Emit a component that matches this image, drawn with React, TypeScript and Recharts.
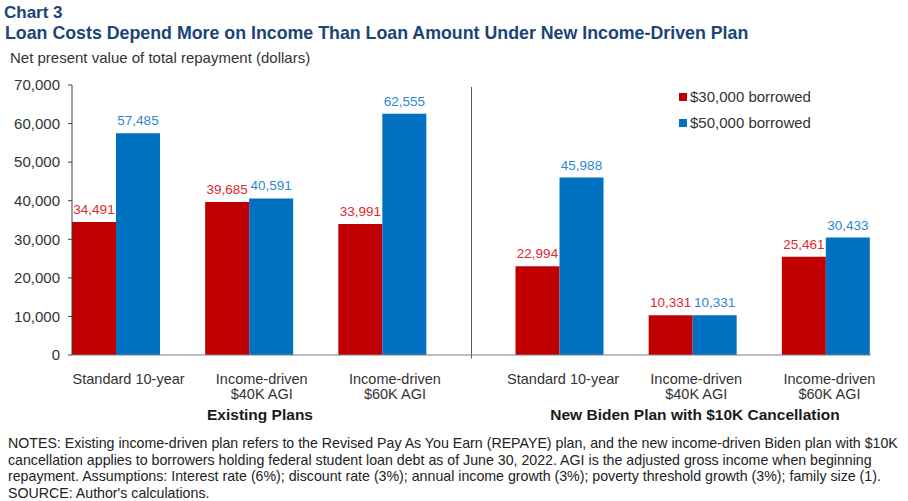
import React from "react";
import {
  BarChart,
  Bar,
  XAxis,
  YAxis,
  Cell,
  LabelList,
  ReferenceLine,
} from "recharts";

// ---------- data ----------
const categories = [
  "Standard 10-year",
  "Income-driven\n$40K AGI",
  "Income-driven\n$60K AGI",
  "Standard 10-year",
  "Income-driven\n$40K AGI",
  "Income-driven\n$60K AGI",
];
const planGroup = [0, 0, 0, 1, 1, 1];
const groupLabels = ["Existing Plans", "New Biden Plan with $10K Cancellation"];
const borrowed30k = [34491, 39685, 33991, 22994, 10331, 25461];
const borrowed50k = [57485, 40591, 62555, 45988, 10331, 30433];
const seriesNames = ["$30,000 borrowed", "$50,000 borrowed"];
const yTicks = [0, 10000, 20000, 30000, 40000, 50000, 60000, 70000];
const notes = [
  "NOTES: Existing income-driven plan refers to the Revised Pay As You Earn (REPAYE) plan, and the new income-driven Biden plan with $10K",
  "cancellation applies to borrowers holding federal student loan debt as of June 30, 2022. AGI is the adjusted gross income when beginning",
  "repayment. Assumptions: Interest rate (6%); discount rate (3%); annual income growth (3%); poverty threshold growth (3%); family size (1).",
  "SOURCE: Author's calculations.",
];

// ---------- styles ----------
const FONT = "'Liberation Sans', Arial, sans-serif";
const BAR_COLORS = ["#C00000", "#0070C0"];
const LABEL_COLORS = ["#E0282E", "#2C88D6"];
const TITLE_COLOR = "#1B4478";
const TEXT_COLOR = "#333333";
const AXIS_COLOR = "#7F7F7F";

// Left group: [30k, 50k, empty]; right group: [empty, 30k, 50k]
const rows = categories.map((cat, i) => {
  const right = planGroup[i] === 1;
  return {
    key: groupLabels[planGroup[i]] + "|" + cat,
    category: cat,
    a: right ? null : borrowed30k[i],
    b: right ? borrowed30k[i] : borrowed50k[i],
    c: right ? borrowed50k[i] : null,
    aS: 0,
    bS: right ? 0 : 1,
    cS: 1,
  };
});
const lastLeftKey = rows[planGroup.lastIndexOf(0)].key;

const fmt = (v: number) => v.toLocaleString("en-US");

const makeLabel = (slot: "a" | "b" | "c") => (props: any) => {
  const { x, y, width, value, index } = props;
  if (value == null) return null;
  const s = (rows[index] as any)[slot + "S"];
  return (
    <text
      x={Number(x) + Number(width) / 2}
      y={Number(y) - 8}
      textAnchor="middle"
      fontSize={13.5}
      fontFamily={FONT}
      fill={LABEL_COLORS[s]}
    >
      {fmt(value)}
    </text>
  );
};

const CategoryTick = (props: any) => {
  const { x, y, payload } = props;
  const idx = payload.index;
  const dx = planGroup[idx] === 0 ? -10 : 25;
  const lines = rows[idx].category.split("\n");
  return (
    <text
      x={x + dx}
      y={y + 29}
      textAnchor="middle"
      fontSize={14.5}
      fontFamily={FONT}
      fill={TEXT_COLOR}
    >
      {lines.map((l, k) => (
        <tspan key={k} x={x + dx} dy={k === 0 ? 0 : 15}>
          {l}
        </tspan>
      ))}
    </text>
  );
};

export default function App() {
  return (
    <div
      style={{
        position: "absolute",
        left: 0,
        top: 0,
        width: 908,
        height: 501,
        background: "#ffffff",
        overflow: "hidden",
      }}
    >
      <BarChart
        width={908}
        height={501}
        data={rows}
        margin={{ top: 85, right: 37, bottom: 106, left: 0 }}
        barCategoryGap={0}
        barGap={0}
      >
        <XAxis
          dataKey="key"
          interval={0}
          tickLine={false}
          tickSize={0}
          tickMargin={0}
          height={40}
          axisLine={{ stroke: AXIS_COLOR }}
          tick={<CategoryTick />}
        />
        <YAxis
          width={72}
          domain={[0, 70000]}
          ticks={yTicks}
          interval={0}
          tickFormatter={fmt}
          tickSize={4}
          tickMargin={8}
          axisLine={{ stroke: "#404040" }}
          tickLine={{ stroke: "#404040" }}
          tick={{ fontSize: 15, fontFamily: FONT, fill: TEXT_COLOR }}
        />
        <ReferenceLine
          segment={[
            { x: lastLeftKey, y: -900 },
            { x: lastLeftKey, y: 69500 },
          ]}
          position="end"
          ifOverflow="visible"
          stroke="#595959"
        />
        <Bar dataKey="a" isAnimationActive={false}>
          {rows.map((r, i) => (
            <Cell key={i} fill={BAR_COLORS[r.aS]} />
          ))}
          <LabelList dataKey="a" content={makeLabel("a")} />
        </Bar>
        <Bar dataKey="b" isAnimationActive={false}>
          {rows.map((r, i) => (
            <Cell key={i} fill={BAR_COLORS[r.bS]} />
          ))}
          <LabelList dataKey="b" content={makeLabel("b")} />
        </Bar>
        <Bar dataKey="c" isAnimationActive={false}>
          {rows.map((r, i) => (
            <Cell key={i} fill={BAR_COLORS[r.cS]} />
          ))}
          <LabelList dataKey="c" content={makeLabel("c")} />
        </Bar>
      </BarChart>
      <svg
        width={908}
        height={501}
        style={{ position: "absolute", left: 0, top: 0, pointerEvents: "none" }}
      >
        <text x={4} y={18} fontSize={17} fontWeight="bold" fontFamily={FONT} fill={TITLE_COLOR}>
          Chart 3
        </text>
        <text x={5} y={39} fontSize={17.8} fontWeight="bold" fontFamily={FONT} fill={TITLE_COLOR}>
          Loan Costs Depend More on Income Than Loan Amount Under New Income-Driven Plan
        </text>
        <text x={10} y={63} fontSize={15} fontFamily={FONT} fill={TEXT_COLOR}>
          Net present value of total repayment (dollars)
        </text>
        {seriesNames.map((n, i) => (
          <g key={n}>
            <rect x={679} y={93 + i * 26} width={8} height={8} fill={BAR_COLORS[i]} />
            <text x={690} y={102 + i * 26} fontSize={15} fontFamily={FONT} fill={TEXT_COLOR}>
              {n}
            </text>
          </g>
        ))}
        <text x={260} y={420} textAnchor="middle" fontSize={15.5} fontWeight="bold" fontFamily={FONT} fill="#1a1a1a">
          {groupLabels[0]}
        </text>
        <text x={695} y={420} textAnchor="middle" fontSize={15.5} fontWeight="bold" fontFamily={FONT} fill="#1a1a1a">
          {groupLabels[1]}
        </text>
        {notes.map((n, i) => (
          <text key={i} x={8} y={448 + i * 16.7} fontSize={14.2} fontFamily={FONT} fill="#222222">
            {n}
          </text>
        ))}
      </svg>
    </div>
  );
}
